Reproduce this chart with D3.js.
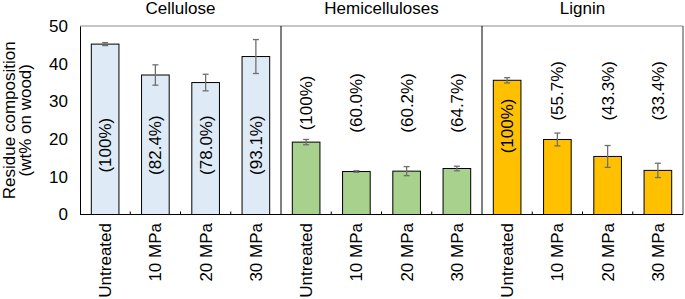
<!DOCTYPE html>
<html>
<head>
<meta charset="utf-8">
<script src="https://cdn.jsdelivr.net/npm/d3@7"></script>
<style>
  body { margin: 0; background: #fff; }
  text { font-family: "Liberation Sans", Arial, sans-serif; fill: #000; }
</style>
</head>
<body>
<div id="chart"></div>
<script>
// data
const groups = ["Cellulose", "Hemicelluloses", "Lignin"];
const treatments = ["Untreated", "10 MPa", "20 MPa", "30 MPa"];

const celluloseValues = [45.2, 37.0, 35.0, 41.9];
const celluloseErrors = [0.4, 2.7, 2.2, 4.5];
const celluloseShares = ["(100%)", "(82.4%)", "(78.0%)", "(93.1%)"];

const hemiValues = [19.2, 11.4, 11.5, 12.2];
const hemiErrors = [0.7, 0.2, 1.2, 0.6];
const hemiShares = ["(100%)", "(60.0%)", "(60.2%)", "(64.7%)"];

const ligninValues = [35.6, 19.9, 15.4, 11.7];
const ligninErrors = [0.7, 1.7, 2.9, 1.9];
const ligninShares = ["(100%)", "(55.7%)", "(43.3%)", "(33.4%)"];

const yTicks = [0, 10, 20, 30, 40, 50];

// build the flat table the scales work on
const groupValues = [celluloseValues, hemiValues, ligninValues];
const groupErrors = [celluloseErrors, hemiErrors, ligninErrors];
const groupShares = [celluloseShares, hemiShares, ligninShares];
const rows = [];
groups.forEach((g, gi) => {
    treatments.forEach((t, ti) => {
        rows.push({
            key: g + "|" + t,
            group: g,
            gi: gi,
            ti: ti,
            label: t,
            value: groupValues[gi][ti],
            err: groupErrors[gi][ti],
            share: groupShares[gi][ti]
        });
    });
});

const width = 685, height = 299;
const plotLeft = 80, plotRight = 683, plotTop = 26, plotBottom = 214.5;
const fillColor = ["#deebf7", "#a9d18e", "#ffc000"];
// where the share labels sit (in wt%), per group; lignin untreated sits inside its bar
const shareAt = (d) => d.gi === 0 ? 18.4 : d.gi === 1 ? 29.6 : (d.ti === 0 ? 23.5 : 32.8);

const svg = d3.select("#chart")
    .append("svg")
    .attr("width", width)
    .attr("height", height);

const x = d3.scaleBand()
    .domain(rows.map(d => d.key))
    .range([plotLeft, plotRight])
    .paddingInner(0.45)
    .paddingOuter(0.225);

const y = d3.scaleLinear()
    .domain([0, 50])
    .range([plotBottom, plotTop]);

// bars
svg.selectAll("rect.bar")
    .data(rows)
    .join("rect")
    .attr("class", "bar")
    .attr("x", d => x(d.key))
    .attr("y", d => y(d.value))
    .attr("width", x.bandwidth())
    .attr("height", d => y(0) - y(d.value))
    .attr("fill", d => fillColor[d.gi])
    .attr("stroke", "#000")
    .attr("stroke-width", 1);

// error bars
const cx = d => x(d.key) + x.bandwidth() / 2;
const err = svg.append("g")
    .attr("stroke", "#6f6f6f")
    .attr("stroke-width", 1.3);
err.selectAll("line.v")
    .data(rows)
    .join("line")
    .attr("class", "v")
    .attr("x1", cx).attr("x2", cx)
    .attr("y1", d => y(d.value + d.err))
    .attr("y2", d => y(d.value - d.err));
err.selectAll("line.top")
    .data(rows)
    .join("line")
    .attr("class", "top")
    .attr("x1", d => cx(d) - 3).attr("x2", d => cx(d) + 3)
    .attr("y1", d => y(d.value + d.err))
    .attr("y2", d => y(d.value + d.err));
err.selectAll("line.bot")
    .data(rows)
    .join("line")
    .attr("class", "bot")
    .attr("x1", d => cx(d) - 3).attr("x2", d => cx(d) + 3)
    .attr("y1", d => y(d.value - d.err))
    .attr("y2", d => y(d.value - d.err));

// share labels (rotated)
svg.selectAll("text.share")
    .data(rows)
    .join("text")
    .attr("class", "share")
    .attr("transform", d => `translate(${cx(d)},${y(shareAt(d))}) rotate(-90)`)
    .attr("text-anchor", "middle")
    .attr("dy", "0.35em")
    .style("font-size", "17px")
    .text(d => d.share);

// frame: top and right
svg.append("line")
    .attr("x1", plotLeft).attr("x2", plotRight)
    .attr("y1", plotTop).attr("y2", plotTop)
    .attr("stroke", "#8c8c8c").attr("stroke-width", 1);
svg.append("line")
    .attr("x1", plotRight).attr("x2", plotRight)
    .attr("y1", plotTop).attr("y2", plotBottom)
    .attr("stroke", "#404040").attr("stroke-width", 1);

// group dividers, at the band edge before each group's first bar
const groupEdge = g => x(g + "|" + treatments[0]) - x.step() * 0.225;
svg.selectAll("line.divider")
    .data(groups.slice(1))
    .join("line")
    .attr("class", "divider")
    .attr("x1", groupEdge)
    .attr("x2", groupEdge)
    .attr("y1", plotTop).attr("y2", plotBottom)
    .attr("stroke", "#000").attr("stroke-width", 1);

// group titles
svg.selectAll("text.title")
    .data(groups)
    .join("text")
    .attr("class", "title")
    .attr("x", d => (x(d + "|" + treatments[0]) + x(d + "|" + treatments[3]) + x.bandwidth()) / 2)
    .attr("y", 14)
    .attr("text-anchor", "middle")
    .style("font-size", "17px")
    .text(d => d);

// y axis
const yAxis = svg.append("g")
    .attr("transform", `translate(${plotLeft},0)`)
    .call(d3.axisLeft(y).tickValues(yTicks).tickSize(0).tickPadding(12));
yAxis.select(".domain").attr("stroke", "#000");
yAxis.selectAll("text")
    .style("font-size", "17px")
    .style("font-family", "'Liberation Sans', Arial, sans-serif")
    .attr("fill", "#000");

// x axis
const xAxis = svg.append("g")
    .attr("transform", `translate(0,${plotBottom})`)
    .call(d3.axisBottom(x).tickSize(0).tickPadding(0).tickFormat(k => k.split("|")[1]));
xAxis.select(".domain").attr("stroke", "#000").attr("d", `M${plotLeft},0H${plotRight}`);
xAxis.selectAll("text")
    .style("font-size", "17px")
    .style("font-family", "'Liberation Sans', Arial, sans-serif")
    .attr("fill", "#000")
    .attr("text-anchor", "end")
    .attr("transform", "rotate(-90)")
    .attr("x", -8.5)
    .attr("y", 0)
    .attr("dy", "0.35em");

// small inward ticks between categories
const boundaries = d3.range(1, rows.length).filter(i => i % 4 !== 0)
    .map(i => plotLeft + x.step() * i);
svg.selectAll("line.sep")
    .data(boundaries)
    .join("line")
    .attr("class", "sep")
    .attr("x1", d => d).attr("x2", d => d)
    .attr("y1", plotBottom).attr("y2", plotBottom - 3)
    .attr("stroke", "#000");

// y axis title
const yTitle = svg.append("text")
    .attr("transform", `translate(0,${(plotTop + plotBottom) / 2}) rotate(-90)`)
    .attr("text-anchor", "middle")
    .style("font-size", "17px");
yTitle.append("tspan").attr("x", 0).attr("y", 15).text("Residue composition");
yTitle.append("tspan").attr("x", 0).attr("y", 31).text("(wt% on wood)");
</script>
</body>
</html>
